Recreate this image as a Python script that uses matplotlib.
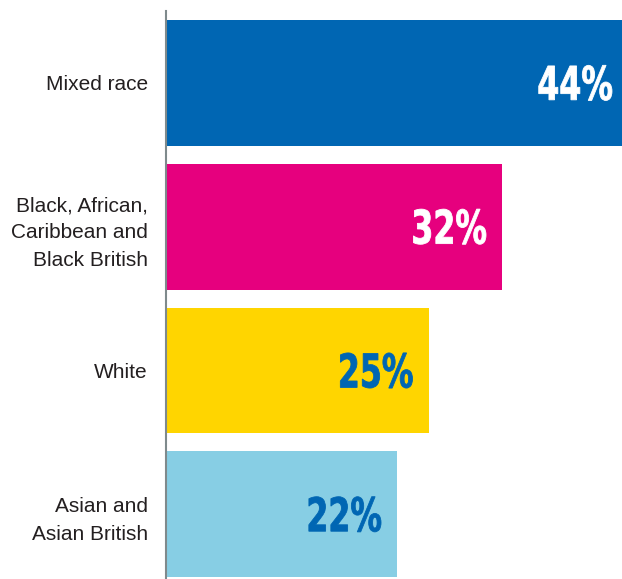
import matplotlib.pyplot as plt
from matplotlib.textpath import TextPath
from matplotlib.patches import PathPatch
from matplotlib.font_manager import FontProperties
import matplotlib.transforms as mtransforms

# Data
groups = ['Mixed race', 'Black, African,\nCaribbean and\nBlack British', 'White', 'Asian and\nAsian British']
shares = [44, 32, 25, 22]
bar_colors = ['#0066B3', '#E6007E', '#FFD500', '#87CEE4']
label_colors = ['white', 'white', '#0066B3', '#0066B3']

fig = plt.figure(figsize=(6.22, 5.79), dpi=100)
ax = fig.add_axes([0.267, 0.0, 0.733, 0.981])

ypos = list(range(len(groups)))
ax.barh(ypos, shares, height=0.875, color=bar_colors)

# first bar runs off the right edge in the original
ax.set_xlim(0, 43.43)
ax.set_ylim(3.45, -0.5)

# Condensed bold percentage labels: squeeze a text path horizontally
fp = FontProperties(family='DejaVu Sans', weight='bold')
squeeze = 0.68
for y, v, c in zip(ypos, shares, label_colors):
    tp = TextPath((0, 0), f'{v}%', size=46.5, prop=fp)
    ext = tp.get_extents()
    tr = (mtransforms.Affine2D()
          .translate(-ext.x1, -(ext.y0 + ext.y1) / 2)
          .scale(squeeze, 1)
          .translate(-16, 0)
          + mtransforms.ScaledTranslation(v, y, ax.transData))
    ax.add_patch(PathPatch(tp, transform=tr, facecolor=c, edgecolor=c,
                           linewidth=0.6, clip_on=False))

ax.set_yticks(ypos)
ax.set_yticklabels(groups, fontsize=15, color='#231f20', family='Liberation Sans',
                   ha='right', multialignment='right', linespacing=1.55)
ax.tick_params(axis='y', length=0, pad=13)
ax.set_xticks([])

for side in ['top', 'right', 'bottom']:
    ax.spines[side].set_visible(False)
ax.spines['left'].set_color('#7f8a8c')
ax.spines['left'].set_linewidth(1.5)

fig.savefig('out.png', dpi=100)
